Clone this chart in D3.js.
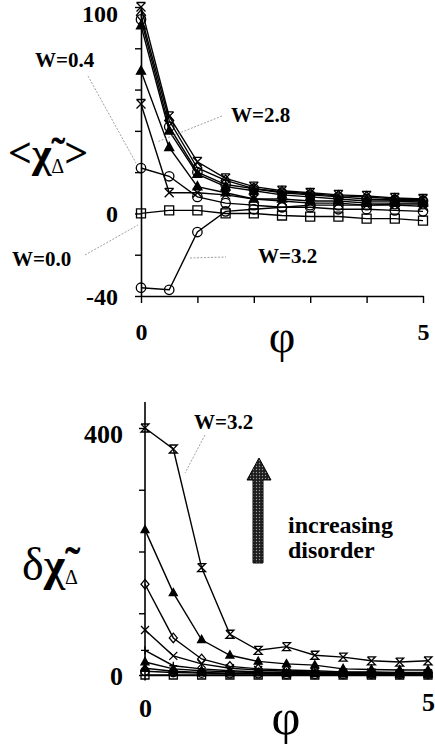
<!DOCTYPE html>
<html>
<head>
<meta charset="utf-8">
<script src="https://cdn.jsdelivr.net/npm/d3@7"></script>
<style>
	body { margin: 0; background: #fff; }
	svg { display: block; }
	text { font-family: "Liberation Serif", "Times New Roman", serif; fill: #000; }
</style>
</head>
<body>
<div id="graphic"></div>
<script>
// phi values (x) shared by both panels
const phi = [0, 0.5, 1, 1.5, 2, 2.5, 3, 3.5, 4, 4.5, 5];

// top panel: <chi~_Delta> for each disorder W
const meanW00 = [0, 1.5, 1.5, 0, 0, -1, -1.5, -1.5, -2.5, -2.5, -3.5];
const meanW04 = [22, 18, 8, 5, 4, 3, 3, 2, 2, 1.5, 1];
const meanW08 = [53, 10, 10, 9, 7, 6, 5, 5, 4, 4, 3.5];
const meanW12 = [69, 32, 13, 10, 7, 7, 6, 6, 5, 5, 5];
const meanW16 = [91, 40, 19, 13, 11, 9, 8, 7, 6, 6, 5.5];
const meanW20 = [94, 42, 20, 14, 12, 10, 9, 8, 7, 6.5, 6];
const meanW24 = [96, 45, 22, 16, 12, 10.5, 9.5, 8.5, 8, 7, 6.5];
const meanW28 = [100, 47, 25, 17, 13, 11, 10, 9, 8.5, 7.5, 7];
const meanW32 = [-36, -37, -9, 1, 2, 3, 4, 4, 4, 4.5, 4.5];
const meanMarkers = ['square', 'circle', 'hourx', 'trifill', 'trifill', 'circle', 'diamond', 'hourx', 'circle'];

// bottom panel: delta chi~_Delta for each disorder W
const flucW00 = [0, 0, 0, 0, 0, 0, 0, 0, 0, 0, 0];
const flucW04 = [6, 4, 3, 2, 2, 1, 1, 1, 1, 1, 1];
const flucW08 = [11, 6, 4, 3, 3, 2, 2, 2, 1, 1, 1];
const flucW12 = [21, 10, 7, 5, 4, 3, 3, 2, 2, 2, 2];
const flucW16 = [40, 15, 10, 7, 5, 4, 4, 3, 3, 2, 2];
const flucW20 = [73, 31, 18, 11, 8, 6, 5, 4, 4, 3, 3];
const flucW24 = [147, 60, 26, 14, 10, 8, 7, 5, 5, 4, 4];
const flucW28 = [235, 133, 57, 32, 22, 18, 16, 10, 9, 8, 8];
const flucW32 = [400, 366, 174, 66, 40, 46, 32, 29, 23, 21, 23];
const flucMarkers = ['square', 'circle', 'trifill', 'trifill', 'plus', 'x', 'diamond', 'trifill', 'hourglass'];

const topYTicks = [-40, -20, 0, 20, 40, 60, 80, 100];
const topYLabels = [-40, 0, 100];
const bottomYTicks = [0, 100, 200, 300, 400];
const bottomYLabels = [0, 400];
const xTicks = [0, 1, 2, 3, 4, 5];
const xLabels = [0, 5];

const meanSeries = [meanW00, meanW04, meanW08, meanW12, meanW16, meanW20, meanW24, meanW28, meanW32];
const flucSeries = [flucW00, flucW04, flucW08, flucW12, flucW16, flucW20, flucW24, flucW28, flucW32];

const svg = d3.select('#graphic').append('svg').attr('width', 435).attr('height', 744);

// stipple pattern for the arrow
const defs = svg.append('defs');
const pat = defs.append('pattern').attr('id', 'stipple').attr('width', 3).attr('height', 3).attr('patternUnits', 'userSpaceOnUse');
pat.append('rect').attr('width', 3).attr('height', 3).attr('fill', '#1e1e1e');
pat.append('circle').attr('cx', 1.5).attr('cy', 1.5).attr('r', 0.7).attr('fill', '#9a9a9a');

function markerPath(type, s) {
	switch (type) {
		case 'square': return `M${-s},${-s}H${s}V${s}H${-s}Z`;
		case 'circle': return d3.symbol().type(d3.symbolCircle).size(Math.PI * s * s * 1.1)();
		case 'diamond': return `M0,${-s * 1.2}L${s},0L0,${s * 1.2}L${-s},0Z`;
		case 'trifill': return `M0,${-s * 1.1}L${s},${s * 0.7}L${-s},${s * 0.7}Z`;
		case 'hourglass': return `M${-s},${-s}H${s}L${-s},${s}H${s}L${-s},${-s}`;
		case 'hourx': return `M${-s},${-s}L${s},${s}M${s},${-s}L${-s},${s}M${-s},${-s}H${s}`;
		case 'x': return `M${-s},${-s}L${s},${s}M${s},${-s}L${-s},${s}`;
		case 'plus': return `M${-s},0H${s}M0,${-s}V${s}`;
	}
}

function drawPanel(g, series, markers, x, y, msize) {
	const line = d3.line().x((d, i) => x(phi[i])).y((d) => y(d));
	series.forEach((vals, k) => {
		g.append('path')
			.attr('d', line(vals))
			.attr('fill', 'none')
			.attr('stroke', '#000')
			.attr('stroke-width', 1.4);
		g.selectAll(null)
			.data(vals)
			.join('path')
			.attr('transform', (d, i) => `translate(${x(phi[i])},${y(d)})`)
			.attr('d', markerPath(markers[k], msize))
			.attr('fill', markers[k] === 'trifill' ? '#000' : 'none')
			.attr('stroke', '#000')
			.attr('stroke-width', 1.3);
	});
}

function styleAxis(sel) {
	sel.selectAll('path.domain').attr('stroke', '#000').attr('stroke-width', 1.6);
	sel.selectAll('line').attr('stroke', '#000').attr('stroke-width', 1.4);
}

const plain = (d) => String(d);

// ---------- top panel ----------
const xTop = d3.scaleLinear().domain([0, 5]).range([141, 423]);
const yTop = d3.scaleLinear().domain([-40, 100]).range([296, 7]);
const topG = svg.append('g');

topG.append('g').attr('transform', 'translate(141,0)')
	.call(d3.axisLeft(yTop).tickValues(topYTicks).tickSize(6).tickSizeOuter(0).tickFormat(''))
	.call(styleAxis);
topG.append('g').attr('transform', 'translate(141,0)')
	.call(d3.axisLeft(yTop).tickValues(topYLabels).tickSize(0).tickPadding(23).tickFormat(plain))
	.call((a) => a.select('.domain').remove())
	.selectAll('text')
	.attr('font-weight', 'bold').attr('font-size', 24)
	.attr('dy', (d) => d === 100 ? '0.6em' : '0.34em');
topG.append('g').attr('transform', 'translate(0,296)')
	.call(d3.axisBottom(xTop).tickValues(xTicks).tickSize(7).tickSizeOuter(0).tickFormat(''))
	.call(styleAxis);
topG.append('g').attr('transform', 'translate(0,296)')
	.call(d3.axisBottom(xTop).tickValues(xLabels).tickSize(0).tickPadding(27).tickFormat(plain))
	.call((a) => a.select('.domain').remove())
	.selectAll('text')
	.attr('font-weight', 'bold').attr('font-size', 24);

drawPanel(topG, meanSeries, meanMarkers, xTop, yTop, 4.5);

topG.append('text').attr('x', 282).attr('y', 352).attr('text-anchor', 'middle')
	.attr('font-size', 46).text('φ');

// y title <chi~ Delta>
const tTitle = topG.append('text').attr('x', 8).attr('y', 167).attr('font-size', 42).attr('font-weight', 'bold');
tTitle.append('tspan').text('<');
tTitle.append('tspan').text('χ\u0303');
tTitle.append('tspan').attr('font-size', 20).attr('font-weight', 'normal').attr('dy', 6).text('Δ');
tTitle.append('tspan').attr('dy', -6).text('>');

// W labels + leader lines
const leader = (g, x1, y1, x2, y2) => g.append('line')
	.attr('x1', x1).attr('y1', y1).attr('x2', x2).attr('y2', y2)
	.attr('stroke', '#888').attr('stroke-width', 0.8).attr('stroke-dasharray', '2,1.5');
const wLabel = (g, x, y, t) => g.append('text').attr('x', x).attr('y', y)
	.attr('font-size', 21).attr('font-weight', 'bold').text(t);

wLabel(topG, 35, 67, 'W=0.4');
leader(topG, 88, 76, 136, 163);
wLabel(topG, 231, 122, 'W=2.8');
leader(topG, 222, 116, 157, 142);
wLabel(topG, 12, 266, 'W=0.0');
leader(topG, 85, 255, 138, 225);
wLabel(topG, 258, 263, 'W=3.2');
leader(topG, 190, 258, 226, 257);

// ---------- bottom panel ----------
const xBot = d3.scaleLinear().domain([0, 5]).range([145, 428]);
const yBot = d3.scaleLinear().domain([0, 400]).range([675, 428]);
const bot = svg.append('g');

bot.append('line').attr('x1', 145).attr('x2', 145).attr('y1', yBot(442)).attr('y2', yBot(-9))
	.attr('stroke', '#000').attr('stroke-width', 1.6);
bot.append('g').attr('transform', 'translate(145,0)')
	.call(d3.axisLeft(yBot).tickValues(bottomYTicks).tickSize(6).tickSizeOuter(0).tickFormat(''))
	.call(styleAxis)
	.call((a) => a.select('.domain').remove());
bot.append('g').attr('transform', 'translate(145,0)')
	.call(d3.axisLeft(yBot).tickValues(bottomYLabels).tickSize(0).tickPadding(22).tickFormat(plain))
	.call((a) => a.select('.domain').remove())
	.selectAll('text')
	.attr('font-weight', 'bold').attr('font-size', 26)
	.attr('dy', (d) => d === 400 ? '0.55em' : '0.38em');
bot.append('g').attr('transform', 'translate(0,675)')
	.call(d3.axisBottom(xBot).tickValues(xTicks).tickSize(0).tickSizeOuter(0).tickFormat(''))
	.call(styleAxis);
bot.append('g').attr('transform', 'translate(0,675)')
	.call(d3.axisBottom(xBot).tickValues(xLabels).tickSize(0).tickPadding(24).tickFormat(plain))
	.call((a) => a.select('.domain').remove())
	.selectAll('text')
	.attr('font-weight', 'bold').attr('font-size', 26)
	.attr('dy', (d) => d === 5 ? '0.45em' : '0.71em');

drawPanel(bot, flucSeries, flucMarkers, xBot, yBot, 4);

bot.append('text').attr('x', 286).attr('y', 734).attr('text-anchor', 'middle')
	.attr('font-size', 50).text('φ');

const bTitle = bot.append('text').attr('x', 22).attr('y', 580).attr('font-size', 46);
bTitle.append('tspan').text('δ');
bTitle.append('tspan').attr('font-weight', 'bold').text('χ\u0303');
bTitle.append('tspan').attr('font-size', 20).attr('dy', 4).text('Δ');

wLabel(bot, 194, 429, 'W=3.2');
leader(bot, 205, 435, 185, 473);

// increasing disorder arrow
bot.append('path')
	.attr('d', 'M253,563V480H247L259,458L271,480H263V563Z')
	.attr('fill', 'url(#stipple)').attr('stroke', '#000').attr('stroke-width', 1);
bot.append('text').attr('x', 288).attr('y', 533).attr('font-size', 24).attr('font-weight', 'bold').text('increasing');
bot.append('text').attr('x', 288).attr('y', 558).attr('font-size', 24).attr('font-weight', 'bold').text('disorder');
</script>
</body>
</html>
